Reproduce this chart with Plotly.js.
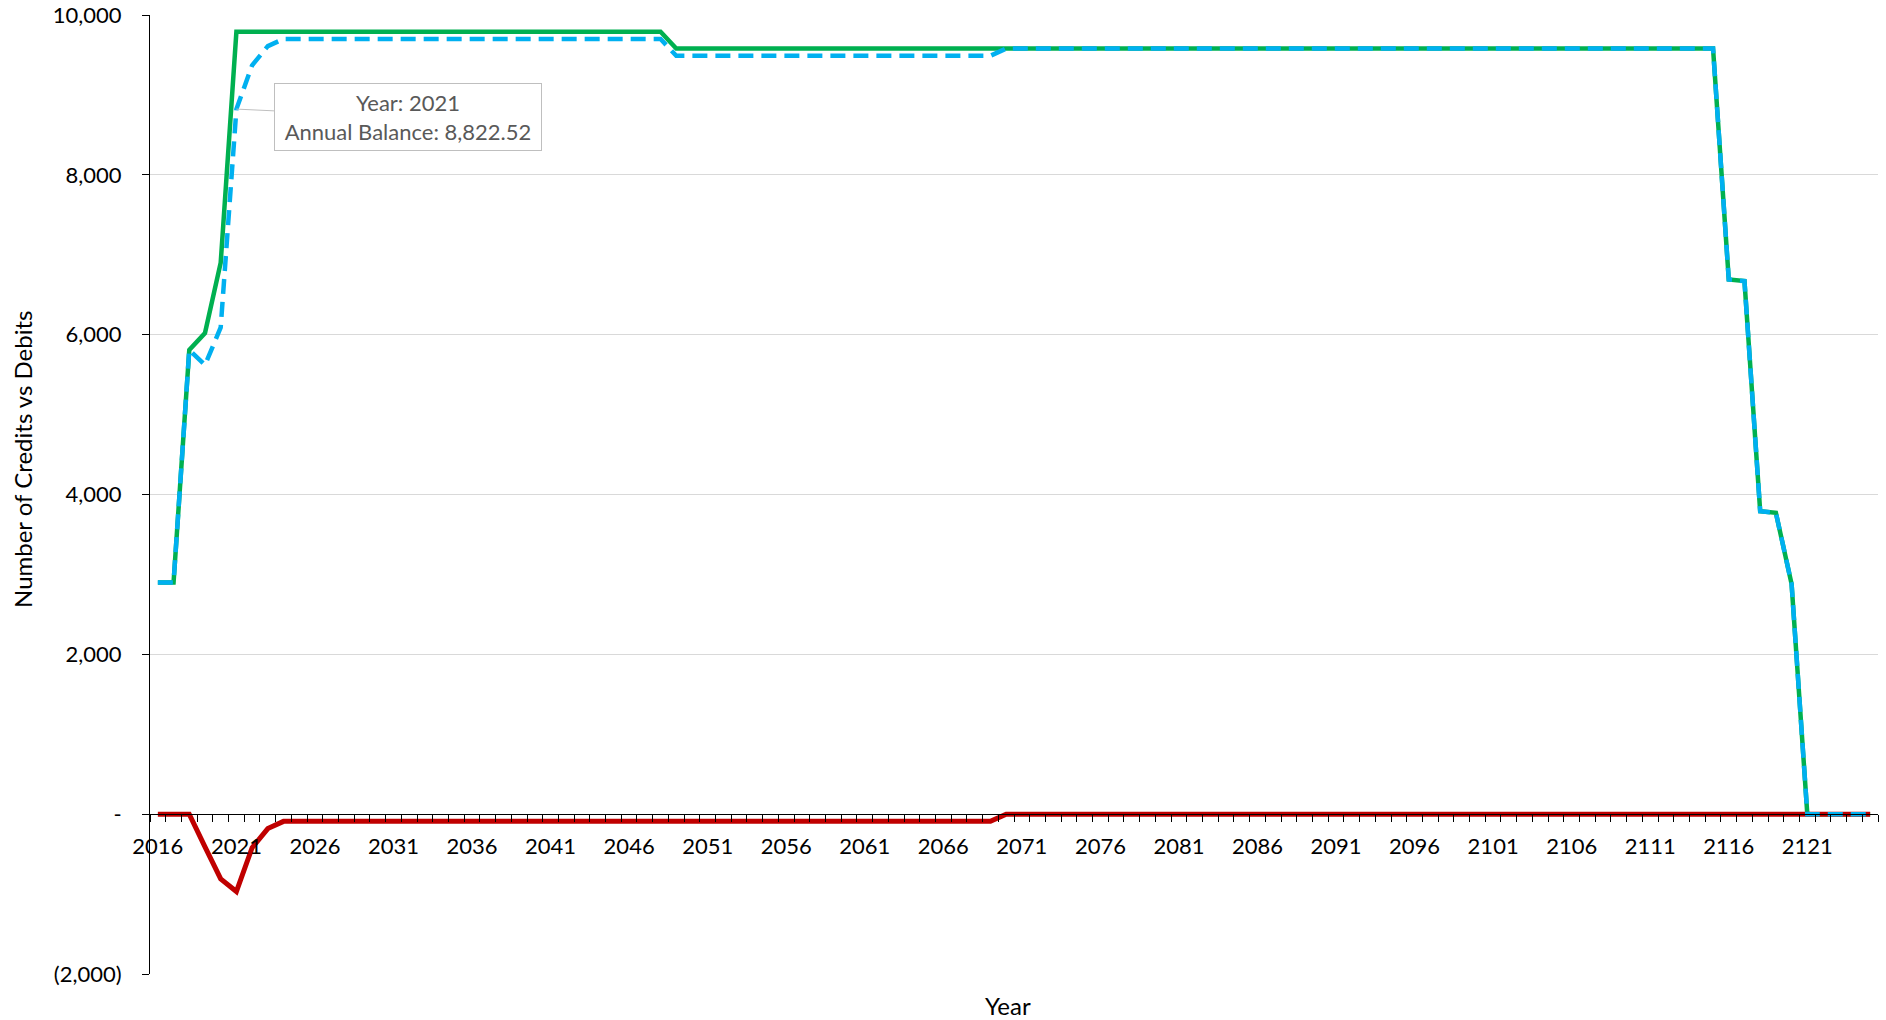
<!DOCTYPE html>
<html>
<head>
<meta charset="utf-8">
<script src="https://cdn.plot.ly/plotly-3.0.1.min.js"></script>
<style>
html,body{margin:0;padding:0;background:#fff;}
#chart{width:1886px;height:1020px;}
</style>
</head>
<body>
<div id="chart"></div>
<script>
// Categories: years 2016..2125
var firstYear = 2016, lastYear = 2125;
var years = [];
for (var yr = firstYear; yr <= lastYear; yr++) years.push(yr);

// Credits (green)
var credits = [
  2900, 2900, 5810, 6020, 6900,
  9790, 9790, 9790, 9790, 9790, 9790, 9790, 9790, 9790, 9790,
  9790, 9790, 9790, 9790, 9790, 9790, 9790, 9790, 9790, 9790,
  9790, 9790, 9790, 9790, 9790, 9790, 9790, 9790,
  9580, 9580, 9580, 9580, 9580, 9580, 9580, 9580, 9580, 9580,
  9580, 9580, 9580, 9580, 9580, 9580, 9580, 9580, 9580, 9580,
  9580, 9580, 9580, 9580, 9580, 9580, 9580, 9580, 9580, 9580,
  9580, 9580, 9580, 9580, 9580, 9580, 9580, 9580, 9580, 9580,
  9580, 9580, 9580, 9580, 9580, 9580, 9580, 9580, 9580, 9580,
  9580, 9580, 9580, 9580, 9580, 9580, 9580, 9580, 9580, 9580,
  9580, 9580, 9580, 9580, 9580, 9580, 9580,
  6690, 6670, 3790, 3770, 2880,
  0, 0, 0, 0, 0
];

// Debits (red)
var debits = [
  0, 0, 0, -410, -810, -968, -420, -180, -90,
  -90, -90, -90, -90, -90, -90, -90, -90, -90, -90,
  -90, -90, -90, -90, -90, -90, -90, -90, -90, -90,
  -90, -90, -90, -90, -90, -90, -90, -90, -90, -90,
  -90, -90, -90, -90, -90, -90, -90, -90, -90, -90,
  -90, -90, -90, -90, -90,
  0, 0, 0, 0, 0, 0, 0, 0, 0, 0,
  0, 0, 0, 0, 0, 0, 0, 0, 0, 0,
  0, 0, 0, 0, 0, 0, 0, 0, 0, 0,
  0, 0, 0, 0, 0, 0, 0, 0, 0, 0,
  0, 0, 0, 0, 0, 0, 0, 0, 0, 0,
  0, 0, 0, 0, 0, 0
];

// Annual balance (blue dashed)
var balance = [
  2900, 2900, 5810, 5620, 6090, 8822.52, 9370, 9610, 9700,
  9700, 9700, 9700, 9700, 9700, 9700, 9700, 9700, 9700, 9700,
  9700, 9700, 9700, 9700, 9700, 9700, 9700, 9700, 9700, 9700,
  9700, 9700, 9700, 9700,
  9490, 9490, 9490, 9490, 9490, 9490, 9490, 9490, 9490, 9490,
  9490, 9490, 9490, 9490, 9490, 9490, 9490, 9490, 9490, 9490,
  9490,
  9580, 9580, 9580, 9580, 9580, 9580, 9580, 9580, 9580, 9580,
  9580, 9580, 9580, 9580, 9580, 9580, 9580, 9580, 9580, 9580,
  9580, 9580, 9580, 9580, 9580, 9580, 9580, 9580, 9580, 9580,
  9580, 9580, 9580, 9580, 9580, 9580, 9580, 9580, 9580, 9580,
  9580, 9580, 9580, 9580, 9580, 9580,
  6690, 6670, 3790, 3770, 2880,
  0, 0, 0, 0, 0
];

// Tick labels
var xTickVals = [2016, 2021, 2026, 2031, 2036, 2041, 2046, 2051, 2056, 2061, 2066,
                 2071, 2076, 2081, 2086, 2091, 2096, 2101, 2106, 2111, 2116, 2121];
var xTickText = xTickVals.map(String);
var yTickVals = [-2000, 0, 2000, 4000, 6000, 8000, 10000];
var yTickText = ['(2,000)', '-', '2,000', '4,000', '6,000', '8,000', '10,000'];

// Callout
var calloutYear = 2021;
var calloutValue = 8822.52;

var traces = [
  {x: years, y: credits, type: 'scatter', mode: 'lines', name: 'Credits',
   line: {color: '#00B050', width: 4.5}},
  {x: years, y: debits, type: 'scatter', mode: 'lines', name: 'Debits',
   line: {color: '#C00000', width: 5}},
  {x: years, y: balance, type: 'scatter', mode: 'lines', name: 'Annual Balance',
   line: {color: '#00B0F0', width: 4.5, dash: '15px,8px'}}
];

var layout = {
  width: 1886, height: 1020,
  margin: {l: 150, r: 8, t: 15, b: 46},
  paper_bgcolor: '#fff', plot_bgcolor: '#fff',
  font: {family: 'Lato, "Open Sans", sans-serif', size: 22, color: '#000'},
  showlegend: false,
  xaxis: {
    type: 'linear',
    range: [firstYear - 0.5, lastYear + 0.5],
    anchor: 'free', position: 1/6,
    showline: true, linecolor: '#000', linewidth: 1,
    showgrid: false, zeroline: false,
    tickvals: xTickVals, ticktext: xTickText,
    ticks: 'outside', ticklen: 7, tickcolor: 'rgba(0,0,0,0)',
    ticklabelstandoff: 5,
    tickfont: {family: 'Lato, sans-serif', size: 22, color: '#000'},
    minor: {ticks: 'outside', ticklen: 7, tickcolor: '#000', tickwidth: 1,
            tick0: firstYear - 0.5, dtick: 1, showgrid: false}
  },
  yaxis: {
    range: [-2000, 10000],
    showline: true, linecolor: '#000', linewidth: 1,
    showgrid: true, gridcolor: '#D9D9D9', gridwidth: 1,
    zeroline: false,
    tickvals: yTickVals, ticktext: yTickText,
    ticks: 'outside', ticklen: 7, tickcolor: '#000',
    ticklabelstandoff: 16,
    tickfont: {family: 'Lato, sans-serif', size: 22, color: '#000'}
  },
  annotations: [
    {x: calloutYear, y: calloutValue, xref: 'x', yref: 'y',
     text: 'Year: ' + calloutYear + '<br>Annual Balance: ' +
           calloutValue.toLocaleString('en-US', {minimumFractionDigits: 2}),
     showarrow: true, arrowhead: 0, arrowwidth: 1, arrowcolor: '#BFBFBF',
     ax: 172, ay: 8,
     bgcolor: '#fff', bordercolor: '#BFBFBF', borderwidth: 1, borderpad: 2,
     width: 262, height: 62, align: 'center',
     font: {family: 'Lato, sans-serif', size: 22, color: '#595959'}},
    {x: 0.5, y: 0, xref: 'paper', yref: 'paper', yanchor: 'middle',
     yshift: -31, xshift: -6, showarrow: false, text: 'Year',
     font: {family: 'Lato, sans-serif', size: 24, color: '#000'}},
    {x: 0, y: 0.536, xref: 'paper', yref: 'paper', xanchor: 'center',
     yanchor: 'middle', xshift: -127, textangle: -90, showarrow: false,
     text: 'Number of Credits vs Debits',
     font: {family: 'Lato, sans-serif', size: 24, color: '#000'}}
  ]
};

Plotly.newPlot('chart', traces, layout, {displayModeBar: false, staticPlot: true});
</script>
</body>
</html>
